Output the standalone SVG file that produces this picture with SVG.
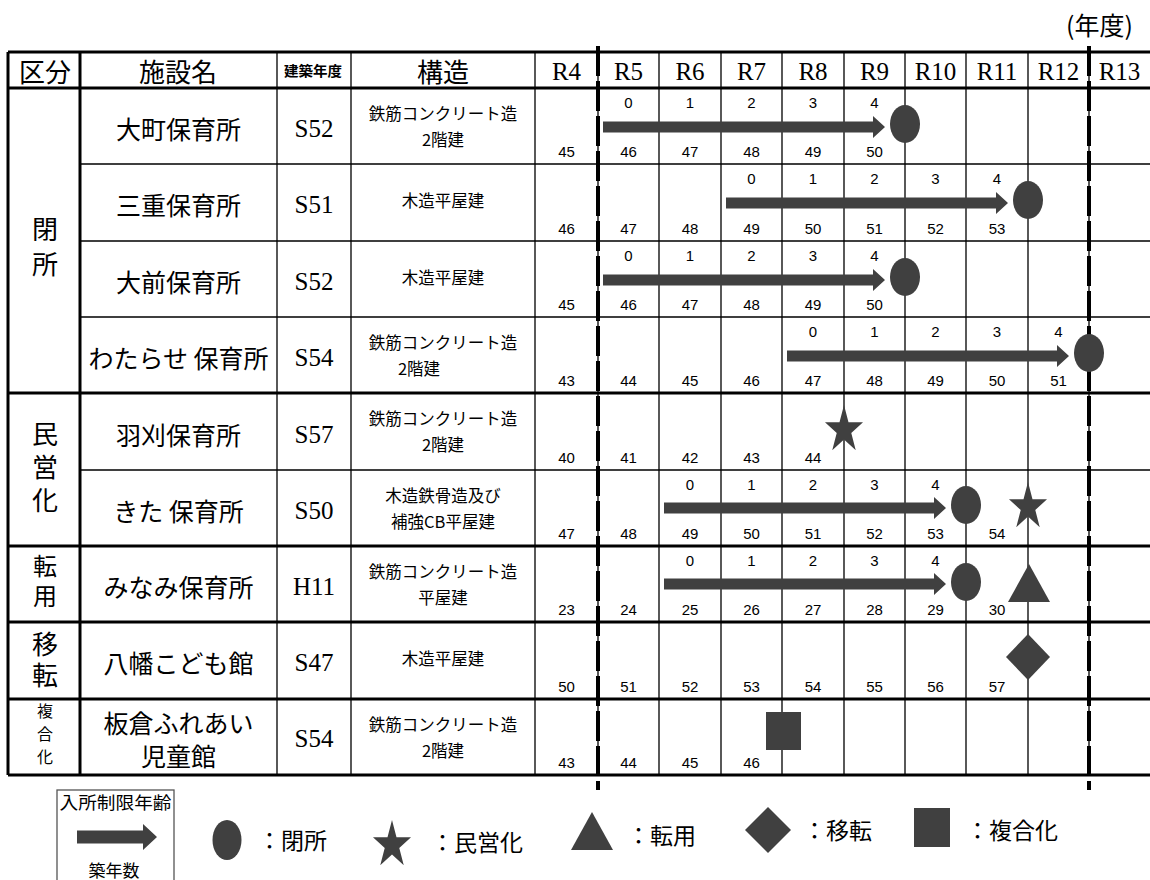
<svg xmlns="http://www.w3.org/2000/svg" width="1150" height="880" viewBox="0 0 1150 880">
<style>
.g{stroke:#000;stroke-width:1.3;fill:none}
.k{stroke:#000;stroke-width:3;fill:none}
.d{stroke:#000;stroke-width:4;stroke-dasharray:30 5;fill:none}
.jp{font-family:"Noto Sans CJK JP",sans-serif;fill:#000}
.hd{font-size:26px;text-anchor:middle;dominant-baseline:central}
.nm{font-size:25px;text-anchor:middle;dominant-baseline:central}
.st{font-size:16.5px;text-anchor:middle;dominant-baseline:central}
.vt{writing-mode:vertical-rl;text-anchor:start}
.lg{font-size:23px;dominant-baseline:central}
.yr{font-family:"Liberation Serif",serif;font-size:25px;text-anchor:middle;dominant-baseline:central;fill:#000}
.n{font-family:"Liberation Sans",sans-serif;font-size:15px;text-anchor:middle;fill:#000}
.sh{fill:#404040}
</style>
<defs>
<path id="arr" class="sh" d="M0,-5.5 H270 V-11 L282,0 L270,11 V5.5 H0 Z"/>
<path id="star" class="sh" d="M0,-25 L4.49,-7.73 L19.02,-7.73 L7.27,2.95 L11.75,20.23 L0,9.55 L-11.75,20.23 L-7.27,2.95 L-19.02,-7.73 L-4.49,-7.73 Z"/>
</defs>
<rect width="1150" height="880" fill="#fff"/>

<text class="jp" x="1066" y="24" font-size="25" dominant-baseline="central">(年度)</text>

<g id="grid">
<path class="g" d="M80,164H1150M80,241H1150M80,317H1150M80,470H1150"/>
<path class="k" d="M8,52H1150M8,88H1150M8,393H1150M8,546H1150M8,622H1150M8,699H1150M8,775H1150"/>
<path class="k" d="M8,52V775M80,52V775"/>
<path class="g" d="M277,52V775M351,52V775M535,52V775M598,52V775M659,52V775M721,52V775M782,52V775M844,52V775M905,52V775M966,52V775M1028,52V775M1089,52V775"/>
<path class="d" d="M598,46V790M1089,46V790"/>
</g>

<g id="header">
<text class="jp hd" x="45" y="70">区分</text>
<text class="jp hd" x="178" y="70">施設名</text>
<text class="jp" x="313" y="70" font-size="14" font-weight="bold" text-anchor="middle" dominant-baseline="central" textLength="58" lengthAdjust="spacingAndGlyphs">建築年度</text>
<text class="jp hd" x="443" y="70">構造</text>
<text class="yr" x="566.5" y="71">R4</text>
<text class="yr" x="628.5" y="71">R5</text>
<text class="yr" x="690" y="71">R6</text>
<text class="yr" x="751.5" y="71">R7</text>
<text class="yr" x="813" y="71">R8</text>
<text class="yr" x="874.5" y="71">R9</text>
<text class="yr" x="935.5" y="71">R10</text>
<text class="yr" x="997" y="71">R11</text>
<text class="yr" x="1058.5" y="71">R12</text>
<text class="yr" x="1119.5" y="71">R13</text>
</g>

<g id="sections">
<text class="jp vt" x="45" y="216" style="font-size:26px;letter-spacing:9px">閉所</text>
<text class="jp vt" x="45" y="421" style="font-size:26px;letter-spacing:7px">民営化</text>
<text class="jp vt" x="45" y="554" style="font-size:24px;letter-spacing:6px">転用</text>
<text class="jp vt" x="45" y="631" style="font-size:26px;letter-spacing:5px">移転</text>
<text class="jp vt" x="45" y="703" style="font-size:16px;letter-spacing:7px">複合化</text>
</g>

<g id="connectors">
<use href="#arr" x="603" y="127"/>
<use href="#arr" x="726" y="203"/>
<use href="#arr" x="603" y="280"/>
<use href="#arr" x="787" y="356"/>
<use href="#arr" x="664" y="508"/>
<use href="#arr" x="664" y="584"/>
</g>

<g id="row-omachi">
<text class="jp nm" x="178.5" y="128">大町保育所</text>
<text class="yr" x="314" y="128">S52</text>
<text class="jp st" x="443" y="113">鉄筋コンクリート造</text>
<text class="jp st" x="443" y="139">2階建</text>
<text class="n" x="628.5" y="107.5">0</text><text class="n" x="690" y="107.5">1</text><text class="n" x="751.5" y="107.5">2</text><text class="n" x="813" y="107.5">3</text><text class="n" x="874.5" y="107.5">4</text>
<text class="n" x="566.5" y="157">45</text><text class="n" x="628.5" y="157">46</text><text class="n" x="690" y="157">47</text><text class="n" x="751.5" y="157">48</text><text class="n" x="813" y="157">49</text><text class="n" x="874.5" y="157">50</text>
<ellipse class="sh" cx="905" cy="124" rx="15" ry="19"/>
</g>

<g id="row-mie">
<text class="jp nm" x="178.5" y="204">三重保育所</text>
<text class="yr" x="314" y="204">S51</text>
<text class="jp st" x="443" y="200">木造平屋建</text>
<text class="n" x="751.5" y="183.5">0</text><text class="n" x="813" y="183.5">1</text><text class="n" x="874.5" y="183.5">2</text><text class="n" x="935.5" y="183.5">3</text><text class="n" x="997" y="183.5">4</text>
<text class="n" x="566.5" y="234">46</text><text class="n" x="628.5" y="234">47</text><text class="n" x="690" y="234">48</text><text class="n" x="751.5" y="234">49</text><text class="n" x="813" y="234">50</text><text class="n" x="874.5" y="234">51</text><text class="n" x="935.5" y="234">52</text><text class="n" x="997" y="234">53</text>
<ellipse class="sh" cx="1028" cy="200" rx="15" ry="19"/>
</g>

<g id="row-omae">
<text class="jp nm" x="178.5" y="281">大前保育所</text>
<text class="yr" x="314" y="281">S52</text>
<text class="jp st" x="443" y="277">木造平屋建</text>
<text class="n" x="628.5" y="260.5">0</text><text class="n" x="690" y="260.5">1</text><text class="n" x="751.5" y="260.5">2</text><text class="n" x="813" y="260.5">3</text><text class="n" x="874.5" y="260.5">4</text>
<text class="n" x="566.5" y="310">45</text><text class="n" x="628.5" y="310">46</text><text class="n" x="690" y="310">47</text><text class="n" x="751.5" y="310">48</text><text class="n" x="813" y="310">49</text><text class="n" x="874.5" y="310">50</text>
<ellipse class="sh" cx="905" cy="277" rx="15" ry="19"/>
</g>

<g id="row-watarase">
<text class="jp nm" x="178.5" y="357">わたらせ 保育所</text>
<text class="yr" x="314" y="357">S54</text>
<text class="jp st" x="443" y="342">鉄筋コンクリート造</text>
<text class="jp st" x="419" y="368">2階建</text>
<text class="n" x="813" y="336.5">0</text><text class="n" x="874.5" y="336.5">1</text><text class="n" x="935.5" y="336.5">2</text><text class="n" x="997" y="336.5">3</text><text class="n" x="1058.5" y="336.5">4</text>
<text class="n" x="566.5" y="386">43</text><text class="n" x="628.5" y="386">44</text><text class="n" x="690" y="386">45</text><text class="n" x="751.5" y="386">46</text><text class="n" x="813" y="386">47</text><text class="n" x="874.5" y="386">48</text><text class="n" x="935.5" y="386">49</text><text class="n" x="997" y="386">50</text><text class="n" x="1058.5" y="386">51</text>
<ellipse class="sh" cx="1089" cy="353" rx="15" ry="19"/>
</g>

<g id="row-hakari">
<text class="jp nm" x="178.5" y="434">羽刈保育所</text>
<text class="yr" x="314" y="434">S57</text>
<text class="jp st" x="443" y="418">鉄筋コンクリート造</text>
<text class="jp st" x="443" y="444">2階建</text>
<text class="n" x="566.5" y="463">40</text><text class="n" x="628.5" y="463">41</text><text class="n" x="690" y="463">42</text><text class="n" x="751.5" y="463">43</text><text class="n" x="813" y="463">44</text>
<use href="#star" x="844" y="430"/>
</g>

<g id="row-kita">
<text class="jp nm" x="178.5" y="510">きた 保育所</text>
<text class="yr" x="314" y="510">S50</text>
<text class="jp st" x="443" y="495">木造鉄骨造及び</text>
<text class="jp st" x="443" y="521">補強CB平屋建</text>
<text class="n" x="690" y="489.5">0</text><text class="n" x="751.5" y="489.5">1</text><text class="n" x="813" y="489.5">2</text><text class="n" x="874.5" y="489.5">3</text><text class="n" x="935.5" y="489.5">4</text>
<text class="n" x="566.5" y="539">47</text><text class="n" x="628.5" y="539">48</text><text class="n" x="690" y="539">49</text><text class="n" x="751.5" y="539">50</text><text class="n" x="813" y="539">51</text><text class="n" x="874.5" y="539">52</text><text class="n" x="935.5" y="539">53</text><text class="n" x="997" y="539">54</text>
<ellipse class="sh" cx="966" cy="505" rx="15" ry="19"/>
<use href="#star" x="1028" y="507"/>
</g>

<g id="row-minami">
<text class="jp nm" x="178.5" y="586">みなみ保育所</text>
<text class="yr" x="314" y="586">H11</text>
<text class="jp st" x="443" y="571">鉄筋コンクリート造</text>
<text class="jp st" x="443" y="597">平屋建</text>
<text class="n" x="690" y="565.5">0</text><text class="n" x="751.5" y="565.5">1</text><text class="n" x="813" y="565.5">2</text><text class="n" x="874.5" y="565.5">3</text><text class="n" x="935.5" y="565.5">4</text>
<text class="n" x="566.5" y="615">23</text><text class="n" x="628.5" y="615">24</text><text class="n" x="690" y="615">25</text><text class="n" x="751.5" y="615">26</text><text class="n" x="813" y="615">27</text><text class="n" x="874.5" y="615">28</text><text class="n" x="935.5" y="615">29</text><text class="n" x="997" y="615">30</text>
<ellipse class="sh" cx="966" cy="582" rx="15" ry="19"/>
<path class="sh" d="M1029,564 L1050,602 L1008,602 Z"/>
</g>

<g id="row-yawata">
<text class="jp nm" x="178.5" y="662">八幡こども館</text>
<text class="yr" x="314" y="662">S47</text>
<text class="jp st" x="443" y="658">木造平屋建</text>
<text class="n" x="566.5" y="692">50</text><text class="n" x="628.5" y="692">51</text><text class="n" x="690" y="692">52</text><text class="n" x="751.5" y="692">53</text><text class="n" x="813" y="692">54</text><text class="n" x="874.5" y="692">55</text><text class="n" x="935.5" y="692">56</text><text class="n" x="997" y="692">57</text>
<path class="sh" d="M1028,634 L1050,657 L1028,680 L1006,657 Z"/>
</g>

<g id="row-itakura">
<text class="jp nm" x="178.5" y="722"><tspan x="178.5" y="722">板倉ふれあい</tspan><tspan x="178.5" y="755">児童館</tspan></text>
<text class="yr" x="314" y="738">S54</text>
<text class="jp st" x="443" y="724">鉄筋コンクリート造</text>
<text class="jp st" x="443" y="750">2階建</text>
<text class="n" x="566.5" y="768">43</text><text class="n" x="628.5" y="768">44</text><text class="n" x="690" y="768">45</text><text class="n" x="751.5" y="768">46</text>
<rect class="sh" x="766" y="712" width="35" height="38"/>
</g>

<g id="legend">
<rect x="57" y="790" width="117" height="95" fill="none" stroke="#555" stroke-width="1.3"/>
<text class="jp" x="115.5" y="801" font-size="17" text-anchor="middle" dominant-baseline="central" textLength="112" lengthAdjust="spacingAndGlyphs">入所制限年齢</text>
<path class="sh" d="M77,830.5 H143 V824 L157,837 L143,850 V843.5 H77 Z"/>
<text class="jp" x="114" y="869" font-size="17" text-anchor="middle" dominant-baseline="central">築年数</text>
<ellipse class="sh" cx="227" cy="840" rx="14.5" ry="20"/>
<text class="jp lg" x="258" y="839">：閉所</text>
<use href="#star" x="392" y="845"/>
<text class="jp lg" x="431" y="841">：民営化</text>
<path class="sh" d="M592,812 L613,850 L571,850 Z"/>
<text class="jp lg" x="627" y="834">：転用</text>
<path class="sh" d="M768,807 L791,830 L768,853 L745,830 Z"/>
<text class="jp lg" x="803" y="829">：移転</text>
<rect class="sh" x="914" y="808" width="36" height="39"/>
<text class="jp lg" x="966" y="829">：複合化</text>
</g>
</svg>
